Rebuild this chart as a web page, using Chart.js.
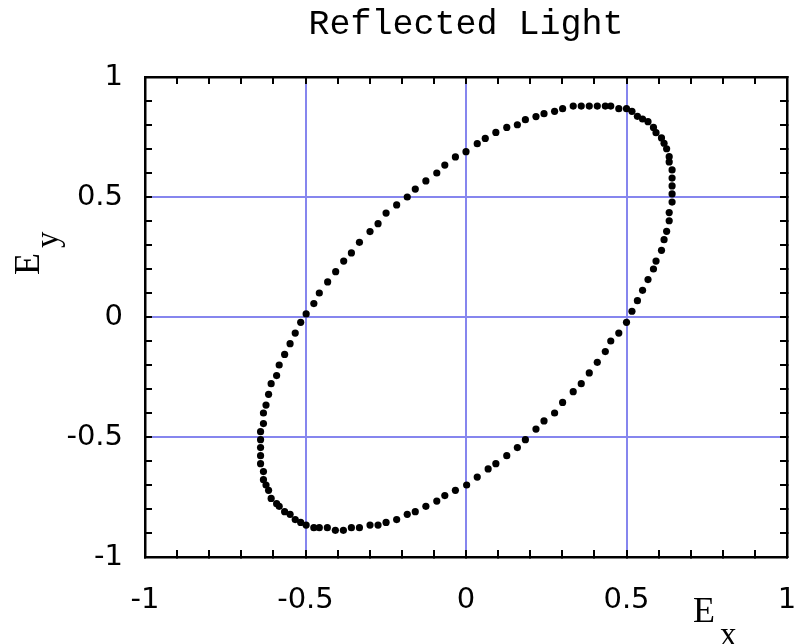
<!DOCTYPE html>
<html>
<head>
<meta charset="utf-8">
<title>Reflected Light</title>
<script src="https://cdn.jsdelivr.net/npm/chart.js@4.4.1/dist/chart.umd.min.js"></script>
<style>
  html, body { margin: 0; padding: 0; background: #fff; }
  #wrap { width: 794px; height: 644px; position: relative; }
</style>
</head>
<body>
<div id="wrap"><canvas id="ellipse"></canvas></div>
<script>
// Texts
const TITLE = 'Reflected Light';

// Axis range, numbered ticks and where the blue grid lines go
const axisMin = -1, axisMax = 1, minorStep = 0.1;
const labelledTicks = [-1, -0.5, 0, 0.5, 1];
const gridTicks = [-0.5, 0, 0.5];

// Ex / Ey of each dot, read off the plot going round the ellipse
// (upper-left arc, top + right side, lower-right arc, bottom + left side)
const ex = [
  -0.498, -0.474, -0.457, -0.431, -0.406, -0.381, -0.357, -0.332, -0.299, -0.274,
  -0.249, -0.216, -0.183, -0.158, -0.125, -0.091, -0.066, -0.033, 0.000,
  0.035, 0.060, 0.093, 0.127, 0.160, 0.185, 0.218, 0.243, 0.276, 0.301,
  0.334, 0.359, 0.384, 0.409, 0.434, 0.451, 0.476, 0.500, 0.517, 0.534,
  0.550, 0.567, 0.584, 0.592, 0.609, 0.617, 0.625, 0.633, 0.633, 0.642,
  0.642, 0.642, 0.642, 0.642, 0.633, 0.633, 0.625, 0.617, 0.609, 0.592,
  0.584, 0.567, 0.550, 0.534, 0.517,
  0.500, 0.476, 0.451, 0.434, 0.409, 0.384, 0.359, 0.334, 0.301, 0.276,
  0.243, 0.218, 0.185, 0.160, 0.127, 0.093, 0.069, 0.035, 0.002,
  -0.033, -0.066, -0.091, -0.125, -0.158, -0.183, -0.216, -0.249, -0.274, -0.299,
  -0.332, -0.357, -0.382, -0.407, -0.432, -0.457, -0.474, -0.498, -0.515, -0.532,
  -0.548, -0.565, -0.582, -0.590, -0.607, -0.615, -0.623, -0.631, -0.631, -0.640,
  -0.640, -0.640, -0.640, -0.640, -0.631, -0.631, -0.623, -0.615, -0.607, -0.590,
  -0.582, -0.565, -0.548, -0.532, -0.515
];
const ey = [
  0.013, 0.056, 0.100, 0.146, 0.189, 0.233, 0.267, 0.311, 0.356, 0.389,
  0.433, 0.467, 0.500, 0.533, 0.567, 0.600, 0.633, 0.667, 0.689,
  0.722, 0.744, 0.769, 0.790, 0.801, 0.822, 0.835, 0.847, 0.857, 0.868,
  0.879, 0.879, 0.879, 0.879, 0.879, 0.879, 0.868, 0.868, 0.857, 0.836,
  0.825, 0.814, 0.790, 0.768, 0.746, 0.724, 0.701, 0.668, 0.646, 0.613,
  0.579, 0.546, 0.513, 0.479, 0.435, 0.401, 0.357, 0.322, 0.278, 0.233,
  0.200, 0.156, 0.111, 0.068, 0.024,
  -0.022, -0.067, -0.100, -0.144, -0.189, -0.233, -0.278, -0.311, -0.356, -0.400,
  -0.433, -0.467, -0.511, -0.544, -0.578, -0.611, -0.633, -0.667, -0.700,
  -0.722, -0.744, -0.767, -0.789, -0.811, -0.822, -0.844, -0.856, -0.867, -0.867,
  -0.878, -0.878, -0.889, -0.889, -0.878, -0.878, -0.878, -0.867, -0.856, -0.844,
  -0.822, -0.811, -0.789, -0.778, -0.756, -0.722, -0.700, -0.678, -0.644, -0.611,
  -0.578, -0.544, -0.511, -0.478, -0.444, -0.400, -0.367, -0.322, -0.278, -0.244,
  -0.200, -0.156, -0.111, -0.067, -0.022
];

const GRID_BLUE = '#8686ee';
const MONO = "'Liberation Mono', monospace";
const SERIF = "'Liberation Serif', serif";
const SANS = "'DejaVu Sans', sans-serif";

const isIn = (v, list) => list.some(t => Math.abs(t - v) < 1e-6);

// one axis: inward minor ticks every 0.1, numbers only on the labelled ticks
function axis(position, main, fitFn) {
  return {
    type: 'linear',
    position: position,
    min: axisMin,
    max: axisMax,
    afterFit: fitFn,
    border: { display: true, color: '#000', width: 2.5 },
    grid: {
      drawOnChartArea: main,
      color: c => (c.tick && isIn(c.tick.value, gridTicks)) ? GRID_BLUE : 'rgba(0,0,0,0)',
      lineWidth: 2,
      tickColor: '#000',
      tickWidth: 2,
      tickLength: -7
    },
    ticks: {
      display: main,
      stepSize: minorStep,
      autoSkip: false,
      maxRotation: 0,
      color: '#000',
      padding: position === 'bottom' ? 33 : 29,
      font: { family: SANS, size: 29, lineHeight: 1.2 },
      callback: v => isIn(v, labelledTicks) ? String(Math.round(v * 2) / 2) : ''
    }
  };
}

// E_x and E_y with subscripts
const axisNames = {
  id: 'axisNames',
  afterDraw(chart) {
    const c = chart.ctx;
    c.save();
    c.fillStyle = '#000';
    c.textAlign = 'left';
    c.textBaseline = 'alphabetic';
    c.font = '36px ' + SERIF;
    c.fillText('E', 693, 622);
    c.font = '33px ' + SERIF;
    c.fillText('x', 720, 645);
    c.translate(39, 275);
    c.rotate(-Math.PI / 2);
    c.font = '36px ' + SERIF;
    c.fillText('E', 0, 0);
    c.font = '33px ' + SERIF;
    c.fillText('y', 27, 19);
    c.restore();
  }
};

new Chart(document.getElementById('ellipse'), {
  type: 'scatter',
  data: {
    datasets: [{
      data: ex.map((x, i) => ({ x: x, y: ey[i] })),
      pointRadius: 3.6,
      pointHoverRadius: 3.6,
      pointBackgroundColor: '#000',
      pointBorderWidth: 0,
      showLine: false
    }]
  },
  options: {
    responsive: true,
    maintainAspectRatio: false,
    animation: false,
    layout: { padding: 0 },
    plugins: {
      legend: { display: false },
      tooltip: { enabled: false },
      title: {
        display: true,
        text: TITLE,
        fullSize: false,
        color: '#000',
        font: { family: MONO, size: 35, weight: 'normal', lineHeight: 1.2 },
        padding: { top: 4, bottom: 31 }
      }
    },
    scales: {
      x: axis('bottom', true, s => { s.height = 87; s.paddingLeft = 0; s.paddingRight = 7; }),
      y: axis('left', true, s => { s.width = 145; }),
      x2: axis('top', false, s => { s.height = 0; s.paddingLeft = 0; s.paddingRight = 7; }),
      y2: axis('right', false, s => { s.width = 0; s.paddingTop = 0; s.paddingBottom = 0; })
    }
  },
  plugins: [axisNames]
});
</script>
</body>
</html>
